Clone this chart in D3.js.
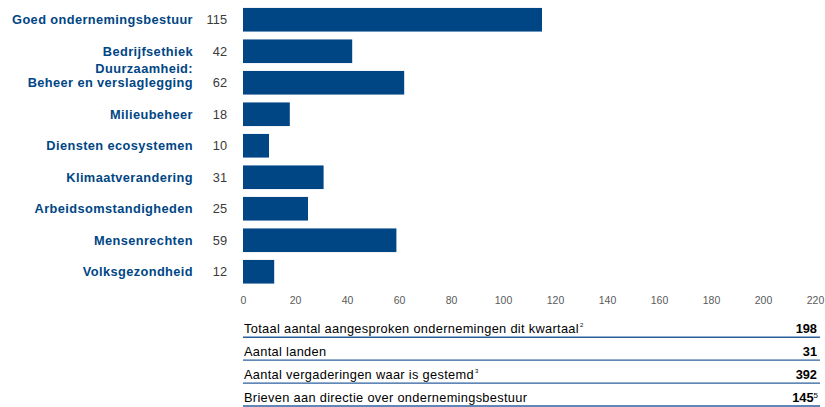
<!DOCTYPE html>
<html>
<head>
<meta charset="utf-8">
<script src="https://cdn.jsdelivr.net/npm/d3@7/dist/d3.min.js"></script>
<style>
  html, body { margin: 0; padding: 0; background: #fff; }
  svg { display: block; font-family: "Liberation Sans", Arial, Helvetica, sans-serif; }
</style>
</head>
<body>
<svg id="chart" width="825" height="407"></svg>
<script>
// ---- data ----
const categories = [
  "Goed ondernemingsbestuur",
  "Bedrijfsethiek",
  "Duurzaamheid:\nBeheer en verslaglegging",
  "Milieubeheer",
  "Diensten ecosystemen",
  "Klimaatverandering",
  "Arbeidsomstandigheden",
  "Mensenrechten",
  "Volksgezondheid"
];
const values = [115, 42, 62, 18, 10, 31, 25, 59, 12];
const tickValues = [0, 20, 40, 60, 80, 100, 120, 140, 160, 180, 200, 220];

const tableLabels = [
  "Totaal aantal aangesproken ondernemingen dit kwartaal",
  "Aantal landen",
  "Aantal vergaderingen waar is gestemd",
  "Brieven aan directie over ondernemingsbestuur"
];
const tableLabelSups = ["2", "", "3", ""];
const tableValues = ["198", "31", "392", "145"];
const tableValueSups = ["", "", "", "5"];

// ---- styles ----
const blue = "#004685";
const lineBlue = "#2b5f9c";

const svg = d3.select("#chart");

const x = d3.scaleLinear().domain([0, 220]).range([243, 815]);
const y = d3.scaleBand()
  .domain(categories.map((d, i) => i))
  .range([4, 287.5])
  .paddingInner(0.25)
  .paddingOuter(0.125);

// bars
svg.append("g").selectAll("rect")
  .data(values)
  .join("rect")
  .attr("x", x(0))
  .attr("y", (d, i) => y(i))
  .attr("width", d => x(d) - x(0))
  .attr("height", y.bandwidth())
  .attr("fill", blue);

// category labels
const lab = svg.append("g")
  .attr("font-weight", "bold")
  .attr("font-size", "12.8px")
  .attr("letter-spacing", "0.4px")
  .attr("fill", blue)
  .attr("text-anchor", "end");

categories.forEach((c, i) => {
  const lines = c.split("\n");
  const cy = y(i) + y.bandwidth() / 2;
  const t = lab.append("text");
  lines.forEach((ln, j) => {
    t.append("tspan")
      .attr("x", 193)
      .attr("y", cy + 4.5 - (lines.length - 1 - j) * 14)
      .text(ln);
  });
});

// value labels
svg.append("g").selectAll("text")
  .data(values)
  .join("text")
  .attr("x", 227)
  .attr("y", (d, i) => y(i) + y.bandwidth() / 2 + 4.5)
  .attr("text-anchor", "end")
  .attr("font-size", "12.8px")
  .attr("fill", "#3a3a3a")
  .text(d => d);

// x axis (labels only)
const axis = d3.axisBottom(x).tickValues(tickValues).tickSize(0).tickPadding(0);
const ag = svg.append("g").attr("transform", "translate(0,297)").call(axis);
ag.select(".domain").remove();
ag.selectAll("text")
  .attr("font-size", "10.5px")
  .attr("font-family", "Liberation Sans, Arial, sans-serif")
  .attr("fill", "#5a5a5a")
  .attr("dy", "0.71em");

// table
const rows = d3.scaleBand()
  .domain(tableLabels.map((d, i) => i))
  .range([314.3, 406])
  .padding(0);

const tg = svg.append("g");
tableLabels.forEach((lbl, i) => {
  const lineY = rows(i) + rows.bandwidth();
  tg.append("line")
    .attr("x1", 243).attr("x2", 820)
    .attr("y1", lineY).attr("y2", lineY)
    .attr("stroke", lineBlue)
    .attr("stroke-width", 1.3);

  const t = tg.append("text")
    .attr("x", 244)
    .attr("y", lineY - 3.8)
    .attr("font-size", "12.8px")
    .attr("letter-spacing", "0.32px")
    .attr("fill", "#000")
    .text(lbl);
  if (tableLabelSups[i]) {
    t.append("tspan")
      .attr("font-size", "6px")
      .attr("dy", -6)
      .attr("dx", 1)
      .text(tableLabelSups[i]);
  }

  const v = tg.append("text")
    .attr("x", tableValueSups[i] ? 818 : 817)
    .attr("y", lineY - 3.8)
    .attr("text-anchor", "end")
    .attr("font-size", "12.8px")
    .attr("font-weight", "bold")
    .attr("fill", "#000")
    .text(tableValues[i]);
  if (tableValueSups[i]) {
    v.append("tspan")
      .attr("font-size", "8px")
      .attr("font-weight", "normal")
      .attr("dy", -4)
      .text(tableValueSups[i]);
  }
});
</script>
</body>
</html>
